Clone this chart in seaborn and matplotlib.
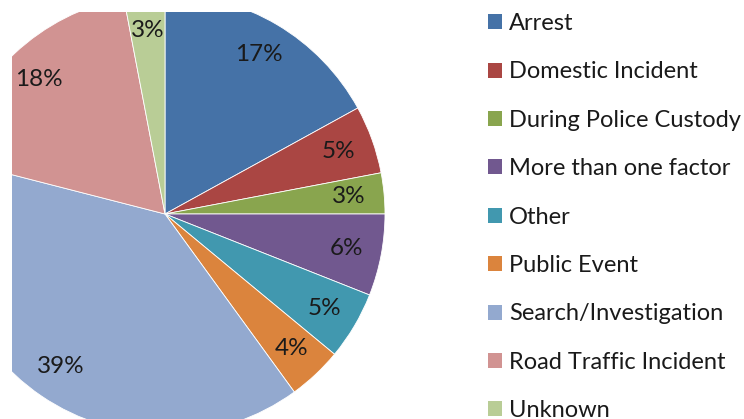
import matplotlib
matplotlib.use("Agg")
import matplotlib.pyplot as plt
from matplotlib.patches import Patch
import seaborn as sns

categories = ["Arrest", "Domestic Incident", "During Police Custody",
              "More than one factor", "Other", "Public Event",
              "Search/Investigation", "Road Traffic Incident", "Unknown"]
shares = [17, 5, 3, 6, 5, 4, 39, 18, 3]
colors = ["#4572A7", "#AA4643", "#89A54E", "#71588F", "#4198AF",
          "#DB843D", "#93A9CF", "#D19392", "#B9CD96"]

sns.set_theme(style="white")
plt.rcParams["font.family"] = ["Lato", "DejaVu Sans"]
palette = sns.color_palette(colors)

W, H = 744, 419
fig = plt.figure(figsize=(W / 100, H / 100), dpi=100)

# pie centre (165, 214) px, radius 220 px, clipped to a box starting at (12, 12)
cx, cy, R = 165, 214, 220
x0, x1, y0, y1 = 12, 400, 12, 419
ax = fig.add_axes([x0 / W, 1 - y1 / H, (x1 - x0) / W, (y1 - y0) / H])

wedges, _, autotexts = ax.pie(
    shares, colors=palette, startangle=90, counterclock=False,
    autopct=lambda p: f"{p:.0f}%", pctdistance=0.84,
    wedgeprops=dict(edgecolor="white", linewidth=0.6),
    textprops=dict(fontsize=17.5, color="#1a1a1a"))
for w in wedges:
    w.set_clip_on(True)
ax.set_aspect("auto")
ax.set_xlim((x0 - cx) / R, (x1 - cx) / R)
ax.set_ylim((cy - y1) / R, (cy - y0) / R)
ax.axis("off")

handles = [Patch(facecolor=c, edgecolor="none") for c in palette]
fig.legend(handles, categories, loc="upper left",
           bbox_to_anchor=(488 / W, 1 - 13 / H), frameon=False,
           fontsize=17, labelspacing=1.16, handlelength=0.6,
           handleheight=0.6, handletextpad=0.3, borderpad=0,
           borderaxespad=0, labelcolor="#1a1a1a")

fig.savefig("out.png", dpi=100)
